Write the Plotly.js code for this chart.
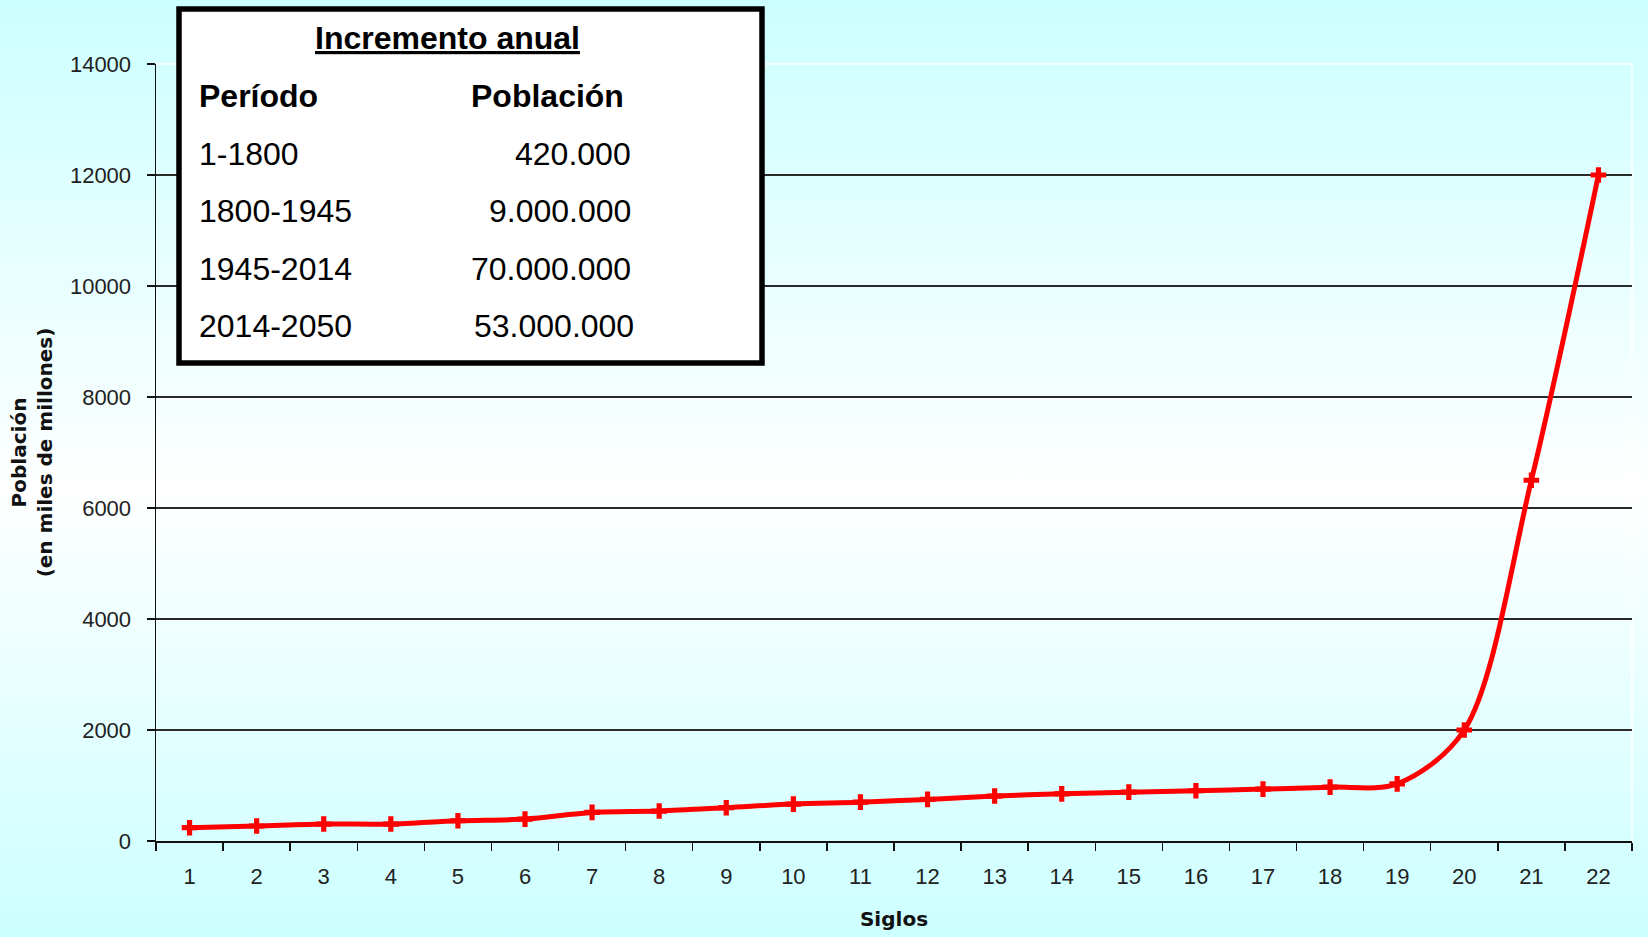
<!DOCTYPE html>
<html>
<head>
<meta charset="utf-8">
<script src="https://cdn.plot.ly/plotly-3.0.1.min.js"></script>
<style>
  html, body { margin: 0; padding: 0; width: 1648px; height: 937px; overflow: hidden; }
  body { background: linear-gradient(to bottom, #ccffff 0%, #f4ffff 42%, #ffffff 52%, #e6ffff 75%, #ccffff 100%); }
  #chart { width: 1648px; height: 937px; }
</style>
</head>
<body>
<div id="chart"></div>
<script>
// ---- Data ----
const siglos = ['1','2','3','4','5','6','7','8','9','10','11','12','13','14','15','16','17','18','19','20','21','22'];
const poblacion = [240, 270, 305, 305, 365, 395, 515, 540, 600, 665, 700, 750, 810, 850, 880, 905, 935, 970, 1030, 2000, 6500, 12000];
const yTicks = [0, 2000, 4000, 6000, 8000, 10000, 12000, 14000];

const tablaTitulo = 'Incremento anual';
const encabezados = ['Período', 'Población'];
const periodos = ['1-1800', '1800-1945', '1945-2014', '2014-2050'];
const incrementos = ['420.000', '9.000.000', '70.000.000', '53.000.000'];

// ---- Layout helpers (pixel -> paper) ----
const L = 156, R = 1632, T = 64, B = 841;
const xp = px => (px - L) / (R - L);
const yp = py => (B - py) / (B - T);

const boxFont = 'Liberation Sans, Arial, sans-serif';
const annotations = [];
annotations.push({
  xref: 'paper', yref: 'paper', x: xp(447), y: yp(38), xanchor: 'center', yanchor: 'middle',
  text: '<b><u>' + tablaTitulo + '</u></b>', showarrow: false,
  font: { family: boxFont, size: 32, color: '#000' }
});
annotations.push({
  xref: 'paper', yref: 'paper', x: xp(197), y: yp(96), xanchor: 'left', yanchor: 'middle',
  text: '<b>' + encabezados[0] + '</b>', showarrow: false,
  font: { family: boxFont, size: 32, color: '#000' }
});
annotations.push({
  xref: 'paper', yref: 'paper', x: xp(469), y: yp(96), xanchor: 'left', yanchor: 'middle',
  text: '<b>' + encabezados[1] + '</b>', showarrow: false,
  font: { family: boxFont, size: 32, color: '#000' }
});
periodos.forEach((p, i) => {
  const cy = 154 + 57.3 * i;
  annotations.push({
    xref: 'paper', yref: 'paper', x: xp(197), y: yp(cy), xanchor: 'left', yanchor: 'middle',
    text: p, showarrow: false, font: { family: boxFont, size: 32, color: '#000' }
  });
  annotations.push({
    xref: 'paper', yref: 'paper', x: xp(i === 3 ? 636 : 633), y: yp(cy), xanchor: 'right', yanchor: 'middle',
    text: incrementos[i], showarrow: false, font: { family: boxFont, size: 32, color: '#000' }
  });
});

const tickFont = { family: 'Liberation Sans, Arial, sans-serif', size: 22, color: '#222' };
const titleFont = { family: 'DejaVu Sans, Verdana, sans-serif', size: 20, color: '#111' };

const trace = {
  type: 'scatter', mode: 'lines+markers',
  x: siglos, y: poblacion,
  line: { color: '#ff0000', width: 5, shape: 'spline', smoothing: 0.9 },
  marker: { symbol: 'cross', size: 13, color: '#ff0000', line: { width: 0 } },
  hoverinfo: 'x+y', showlegend: false, cliponaxis: false
};

const layout = {
  width: 1648, height: 937,
  margin: { l: L, r: 1648 - R, t: T, b: 937 - B, pad: 0 },
  paper_bgcolor: 'rgba(0,0,0,0)',
  plot_bgcolor: 'rgba(0,0,0,0)',
  showlegend: false,
  xaxis: {
    type: 'category', tickson: 'boundaries', range: [-0.5, siglos.length - 0.5], autorange: false,
    showline: true, linecolor: '#111', linewidth: 1.5,
    ticks: 'outside', ticklen: 8, tickwidth: 1.5, tickcolor: '#111',
    showgrid: false, zeroline: false,
    tickfont: tickFont, ticklabelstandoff: 15,
    title: { text: '<b>Siglos</b>', font: titleFont, standoff: 24 }
  },
  yaxis: {
    range: [0, 14000], autorange: false, tickvals: yTicks, ticktext: yTicks.map(String),
    showline: true, linecolor: '#111', linewidth: 1.5,
    ticks: 'outside', ticklen: 8, tickwidth: 1.5, tickcolor: '#111',
    showgrid: true, gridcolor: '#2a2a2a', gridwidth: 1.5,
    zeroline: false,
    tickfont: tickFont, ticklabelstandoff: 11,
    title: { text: '<b>Población<br>(en miles de millones)</b>', font: titleFont, standoff: 12 },
    automargin: false
  },
  shapes: [
    { type: 'line', xref: 'paper', yref: 'paper', x0: 0, x1: 1, y0: 1, y1: 1,
      line: { color: '#ffffff', width: 1.5 }, layer: 'below' },
    { type: 'line', xref: 'paper', yref: 'paper', x0: 1, x1: 1, y0: 0, y1: 1,
      line: { color: '#ffffff', width: 1.5 }, layer: 'below' },
    { type: 'rect', xref: 'paper', yref: 'paper',
      x0: xp(179), x1: xp(762), y0: yp(363), y1: yp(9),
      fillcolor: '#ffffff', line: { color: '#000000', width: 5.5 }, layer: 'above' }
  ],
  annotations: annotations
};

Plotly.newPlot('chart', [trace], layout, { displayModeBar: false, staticPlot: true });
</script>
</body>
</html>
